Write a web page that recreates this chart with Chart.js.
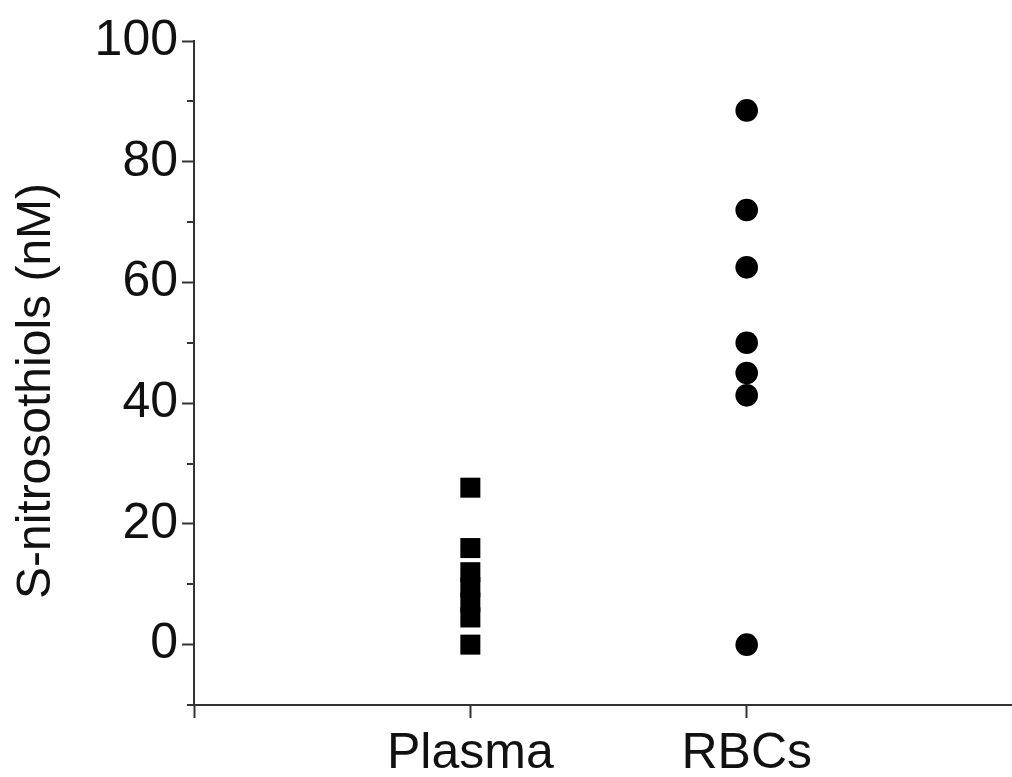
<!DOCTYPE html>
<html>
<head>
<meta charset="utf-8">
<script src="https://cdn.jsdelivr.net/npm/chart.js@4/dist/chart.umd.min.js"></script>
<style>
html,body{margin:0;padding:0;background:#fff;overflow:hidden}
#wrap{width:1012px;height:777px;position:relative}
</style>
</head>
<body>
<div id="wrap"><canvas id="c"></canvas></div>
<script>
const categories = ['Plasma', 'RBCs'];
const plasmaValues = [26, 16, 12, 9.5, 7, 4.5, 0];
const rbcValues = [88.5, 72, 62.5, 50, 45, 41.3, 0];
const yTickValues = [0, 20, 40, 60, 80, 100];
const yMinorTickValues = [-10, 10, 30, 50, 70, 90];
const yAxisTitle = 'S-nitrosothiols (nM)';

const FONT = "'Liberation Sans', Arial, sans-serif";
const AXIS_COLOR = '#333';
const TEXT_COLOR = '#111';

function toPoints(vals, catIndex) {
  return vals.map(v => ({ x: catIndex + 1, y: v }));
}

const minorTicks = {
  id: 'minorTicks',
  afterDraw(chart) {
    const y = chart.scales.y;
    const ctx = chart.ctx;
    ctx.save();
    ctx.strokeStyle = AXIS_COLOR;
    ctx.lineWidth = 2;
    yMinorTickValues.forEach(v => {
      const py = Math.round(y.getPixelForValue(v));
      ctx.beginPath();
      ctx.moveTo(chart.chartArea.left - 7, py);
      ctx.lineTo(chart.chartArea.left, py);
      ctx.stroke();
    });
    // rotated y-axis title
    const midY = (y.getPixelForValue(100) + y.getPixelForValue(-10)) / 2 + 18;
    ctx.translate(49.5, midY);
    ctx.rotate(-Math.PI / 2);
    ctx.font = "48px " + FONT;
    ctx.fillStyle = TEXT_COLOR;
    ctx.textAlign = 'center';
    ctx.textBaseline = 'alphabetic';
    ctx.fillText(yAxisTitle, 0, 0);
    ctx.restore();
  }
};

new Chart(document.getElementById('c'), {
  type: 'scatter',
  data: {
    datasets: [
      {
        label: categories[0],
        data: toPoints(plasmaValues, 0),
        pointStyle: 'rect',
        pointRadius: 14.14,
        pointHoverRadius: 14.14,
        backgroundColor: '#000',
        borderColor: '#000',
        borderWidth: 0
      },
      {
        label: categories[1],
        data: toPoints(rbcValues, 1),
        pointStyle: 'circle',
        pointRadius: 11.3,
        pointHoverRadius: 11.3,
        backgroundColor: '#000',
        borderColor: '#000',
        borderWidth: 0
      }
    ]
  },
  options: {
    responsive: true,
    maintainAspectRatio: false,
    animation: false,
    events: [],
    layout: { autoPadding: false, padding: { top: 41, right: 0, bottom: 0, left: 0 } },
    plugins: { legend: { display: false }, tooltip: { enabled: false } },
    scales: {
      x: {
        type: 'linear',
        min: 0,
        max: 2.96,
        afterBuildTicks: s => { s.ticks = [0].concat(categories.map((c, i) => i + 1)).map(v => ({ value: v })); },
        afterFit: s => { s.height = 72; s.paddingLeft = 0; s.paddingRight = 0; },
        grid: { drawOnChartArea: false, drawTicks: true, tickLength: 13, tickColor: AXIS_COLOR, tickWidth: 2 },
        border: { display: true, color: AXIS_COLOR, width: 2 },
        ticks: {
          autoSkip: false,
          maxRotation: 0,
          padding: 6,
          color: TEXT_COLOR,
          font: { family: FONT, size: 50 },
          callback: v => (v >= 1 && v <= categories.length) ? categories[v - 1] : ''
        }
      },
      y: {
        type: 'linear',
        min: -10,
        max: 100,
        afterBuildTicks: s => { s.ticks = yTickValues.map(v => ({ value: v })); },
        afterFit: s => { s.width = 194; },
        grid: { drawOnChartArea: false, drawTicks: true, tickLength: 12, tickColor: AXIS_COLOR, tickWidth: 2 },
        border: { display: true, color: AXIS_COLOR, width: 2 },
        ticks: {
          padding: 4,
          color: TEXT_COLOR,
          font: { family: FONT, size: 50 }
        }
      }
    }
  },
  plugins: [minorTicks]
});
</script>
</body>
</html>
